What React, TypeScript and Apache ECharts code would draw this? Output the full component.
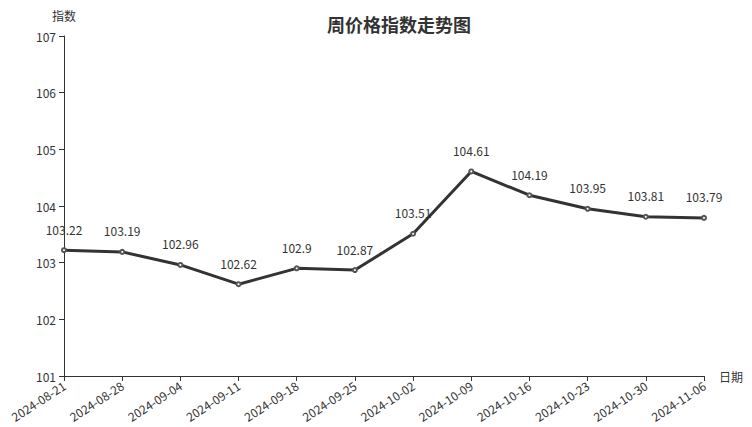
import React, { useEffect, useRef } from "react";
import * as echarts from "echarts";

const categories = [
  "2024-08-21", "2024-08-28", "2024-09-04", "2024-09-11", "2024-09-18", "2024-09-25",
  "2024-10-02", "2024-10-09", "2024-10-16", "2024-10-23", "2024-10-30", "2024-11-06",
];
const values = [103.22, 103.19, 102.96, 102.62, 102.9, 102.87, 103.51, 104.61, 104.19, 103.95, 103.81, 103.79];
const title = "周价格指数走势图";
const yName = "指数";
const xName = "日期";

const FONT = "'Noto Sans CJK SC', 'Noto Sans', sans-serif";

export default function App() {
  const ref = useRef<HTMLDivElement>(null);
  useEffect(() => {
    const chart = echarts.init(ref.current!, undefined, { renderer: "svg" });
    chart.setOption({
      animation: false,
      textStyle: { fontFamily: FONT },
      title: {
        text: title,
        left: 322,
        top: 10,
        textStyle: { fontSize: 18, fontWeight: "bold", color: "#333", fontFamily: FONT },
      },
      grid: { left: 64, right: 48, top: 36, bottom: 51, containLabel: false },
      xAxis: {
        type: "category",
        data: categories,
        boundaryGap: false,
        name: xName,
        nameGap: 15,
        nameTextStyle: { color: "#333", fontSize: 12 },
        axisLine: { lineStyle: { color: "#333" } },
        axisTick: { alignWithLabel: true, lineStyle: { color: "#333" } },
        axisLabel: { rotate: 33, color: "#333", fontSize: 12, interval: 0, margin: 8 },
        splitLine: { show: false },
      },
      yAxis: {
        type: "value",
        min: 101,
        max: 107,
        interval: 1,
        name: yName,
        nameGap: 15,
        nameTextStyle: { color: "#333", fontSize: 12, align: "center" },
        axisLine: { show: true, lineStyle: { color: "#333" } },
        axisTick: { show: true, lineStyle: { color: "#333" } },
        axisLabel: { color: "#333", fontSize: 12 },
        splitLine: { show: false },
      },
      series: [
        {
          type: "line",
          data: values,
          symbol: "emptyCircle",
          symbolSize: 4,
          lineStyle: { color: "#333", width: 3 },
          itemStyle: { color: "#555", borderWidth: 1 },
          label: { show: true, position: "top", color: "#333", fontSize: 12, distance: 12 },
        },
      ],
    });
    return () => chart.dispose();
  }, []);
  return <div ref={ref} style={{ width: 752, height: 427, position: "absolute", left: 0, top: 0 }} />;
}
